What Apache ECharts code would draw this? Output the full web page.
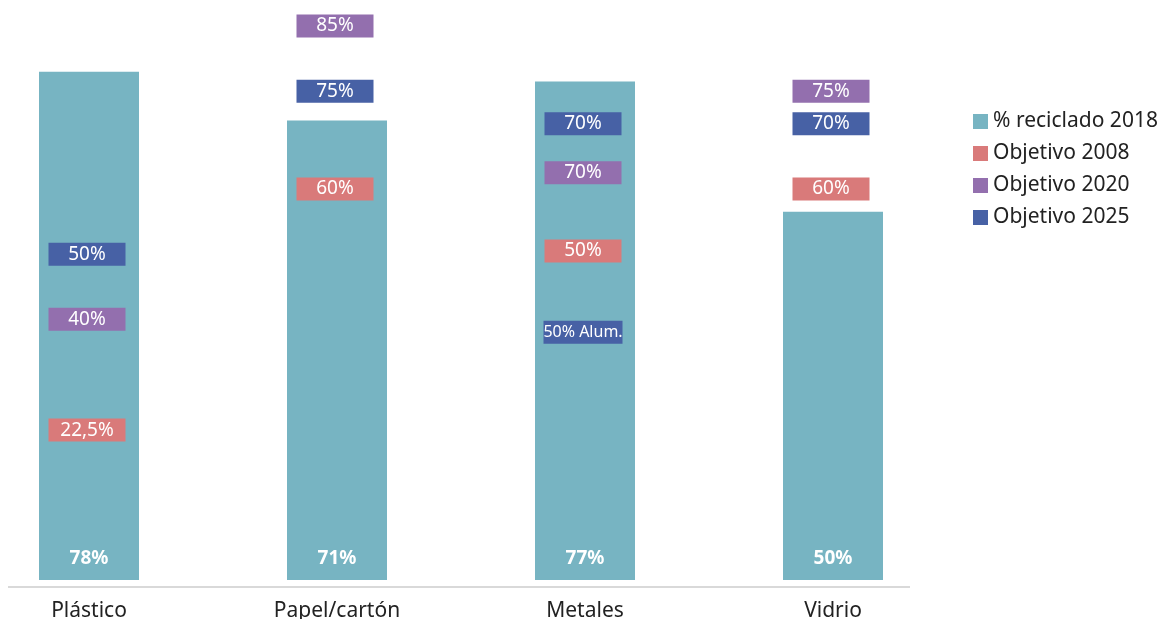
<!DOCTYPE html>
<html>
<head>
<meta charset="utf-8">
<title>Reciclado</title>
<script src="https://cdn.jsdelivr.net/npm/echarts@6/dist/echarts.min.js"></script>
<style>
    html, body { margin: 0; padding: 0; background: #fff; }
    #chart { width: 1163px; height: 619px; }
</style>
</head>
<body>
<div id="chart"></div>
<script>
// datos
const categorias = ['Plástico', 'Papel/cartón', 'Metales', 'Vidrio'];

// % reciclado 2018 (altura de barra y texto)
const reciclado2018 = [78, 70.5, 76.5, 56.5];
const reciclado2018Txt = ['78%', '71%', '77%', '50%'];

// objetivos: posición en el eje y texto de la etiqueta
const objetivo2008 = [23, 60, 50.5, 60];
const objetivo2008Txt = ['22,5%', '60%', '50%', '60%'];
const objetivo2020 = [40, 85, 62.5, 75];
const objetivo2020Txt = ['40%', '85%', '70%', '75%'];
const objetivo2025 = [50, 75, 70, 70];
const objetivo2025Txt = ['50%', '75%', '70%', '70%'];
// marca extra de aluminio (Metales)
const aluminio2025 = 38;
const aluminio2025Txt = '50% Alum.';

const colores = ['#77b4c2', '#d97a7a', '#936fae', '#4761a5'];
const fuente = '"Noto Sans", sans-serif';

function marcas(valores, textos) {
    return valores.map((v, i) => ({
        value: [i, v],
        label: {formatter: textos[i]}
    }));
}

function serieObjetivo(nombre, data) {
    return {
        name: nombre,
        type: 'scatter',
        symbol: 'rect',
        symbolSize: [77, 23],
        symbolOffset: [-2, 0],
        z: 5,
        itemStyle: {opacity: 1},
        data: data,
        label: {
            show: true,
            position: 'inside',
            color: '#fff',
            fontSize: 19,
            fontFamily: fuente
        }
    };
}

const myChart = echarts.init(document.getElementById('chart'));

const datos2025 = marcas(objetivo2025, objetivo2025Txt);
datos2025.push({
    value: [2, aluminio2025],
    symbolSize: [79, 23],
    label: {formatter: aluminio2025Txt, fontSize: 16}
});

const option = {
    color: colores,
    animation: false,
    textStyle: {fontFamily: fuente},
    legend: {
        orient: 'vertical',
        left: 968,
        top: 106,
        icon: 'rect',
        itemWidth: 15,
        itemHeight: 15,
        itemGap: 11,
        textStyle: {fontSize: 21, color: '#222', fontFamily: fuente, lineHeight: 21},
        data: ['% reciclado 2018', 'Objetivo 2008', 'Objetivo 2020', 'Objetivo 2025']
    },
    grid: {
        left: -35,
        width: 992,
        top: 0,
        bottom: 39,
        outerBoundsMode: 'none',
        containLabel: false
    },
    xAxis: {
        type: 'category',
        data: categorias,
        axisLine: {show: false},
        axisTick: {show: false},
        axisLabel: {
            fontSize: 21,
            color: '#222',
            margin: 21,
            fontFamily: fuente
        }
    },
    yAxis: {
        type: 'value',
        min: 0,
        max: 89,
        show: false
    },
    graphic: [
        {
            type: 'line',
            shape: {x1: 8, y1: 587, x2: 910, y2: 587},
            style: {stroke: '#d9d9d9', lineWidth: 2}
        }
    ],
    series: [
        {
            name: '% reciclado 2018',
            type: 'bar',
            barWidth: 100,
            data: reciclado2018,
            label: {
                show: true,
                position: 'insideBottom',
                distance: 12,
                color: '#fff',
                fontSize: 19,
                fontWeight: 'bold',
                fontFamily: fuente,
                formatter: p => reciclado2018Txt[p.dataIndex]
            }
        },
        serieObjetivo('Objetivo 2008', marcas(objetivo2008, objetivo2008Txt)),
        serieObjetivo('Objetivo 2020', marcas(objetivo2020, objetivo2020Txt)),
        serieObjetivo('Objetivo 2025', datos2025)
    ]
};

myChart.setOption(option);
</script>
</body>
</html>
